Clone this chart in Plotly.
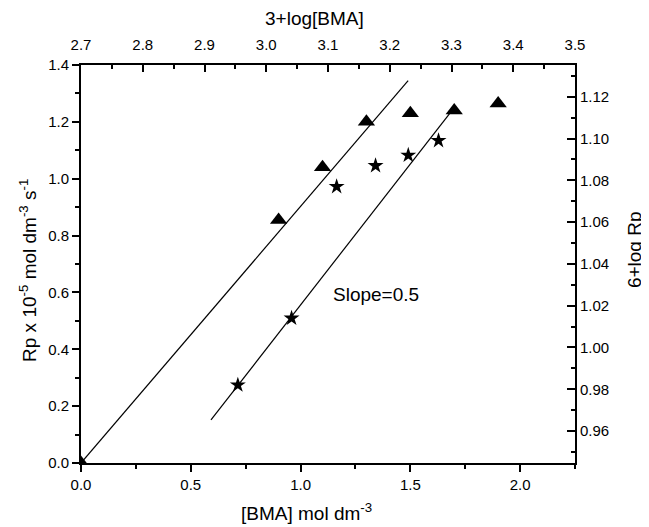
import plotly.graph_objects as go

# Rp vs [BMA] (bottom / left axes)
bma = [0.0, 0.9, 1.1, 1.3, 1.5, 1.7, 1.9]
rp = [0.0, 0.855, 1.04, 1.2, 1.23, 1.24, 1.265]
fit1_x = [0.0, 1.49]
fit1_y = [0.0, 1.345]

# 6+log Rp vs 3+log[BMA] (top / right axes)
log_bma = [2.954, 3.041, 3.114, 3.177, 3.230, 3.279]
log_rp = [0.982, 1.014, 1.077, 1.087, 1.092, 1.099]
fit2_x = [2.9105, 3.301]
fit2_y = [0.9653, 1.1135]

x_ticks = [0.0, 0.5, 1.0, 1.5, 2.0]
y_ticks = [0.0, 0.2, 0.4, 0.6, 0.8, 1.0, 1.2, 1.4]
x2_ticks = [2.7, 2.8, 2.9, 3.0, 3.1, 3.2, 3.3, 3.4, 3.5]
y2_ticks = [0.96, 0.98, 1.00, 1.02, 1.04, 1.06, 1.08, 1.10, 1.12]

FONT = "Arial, Liberation Sans, sans-serif"
TICKF = dict(family=FONT, size=15, color="black")
TITLEF = dict(family=FONT, size=19, color="black")

fig = go.Figure()
fig.add_trace(go.Scatter(x=fit1_x, y=fit1_y, mode="lines",
                         line=dict(color="black", width=1.2), showlegend=False))
fig.add_trace(go.Scatter(x=bma, y=rp, mode="markers",
                         marker=dict(symbol="triangle-up", size=15, color="black"),
                         showlegend=False))
fig.add_trace(go.Scatter(x=fit2_x, y=fit2_y, mode="lines", xaxis="x2", yaxis="y2",
                         line=dict(color="black", width=1.2), showlegend=False))
fig.add_trace(go.Scatter(x=log_bma, y=log_rp, mode="markers", xaxis="x2", yaxis="y2",
                         marker=dict(symbol="star", size=12, color="black"),
                         showlegend=False))

axis_common = dict(showgrid=False, zeroline=False, showline=True, linecolor="black",
                   linewidth=2, tickcolor="black", tickwidth=1.5, tickfont=TICKF)

# the page adds an 8px body margin, so the figure is shrunk by that amount
fig.update_layout(
    width=641, height=519,
    margin=dict(l=73, r=74, t=57, b=64),
    paper_bgcolor="white", plot_bgcolor="white",
    showlegend=False,
    xaxis=dict(range=[0, 2.25], tickvals=x_ticks, ticktext=[f"{v:.1f}" for v in x_ticks],
               ticks="outside", ticklen=7,
               minor=dict(dtick=0.25, tick0=0, ticks="outside", ticklen=4,
                          tickcolor="black", tickwidth=1.5),
               **axis_common),
    yaxis=dict(range=[0, 1.4], tickvals=y_ticks, ticktext=[f"{v:.1f}" for v in y_ticks],
               ticks="outside", ticklen=7,
               minor=dict(dtick=0.1, tick0=0, ticks="outside", ticklen=4,
                          tickcolor="black", tickwidth=1.5),
               **axis_common),
    xaxis2=dict(range=[2.7, 3.5], overlaying="x", side="top", anchor="y",
                tickvals=x2_ticks, ticktext=[f"{v:.1f}" for v in x2_ticks],
                ticks="inside", ticklen=7, ticklabelstandoff=7,
                minor=dict(dtick=0.05, tick0=2.7, ticks="inside", ticklen=4,
                           tickcolor="black", tickwidth=1.5),
                **axis_common),
    yaxis2=dict(range=[0.9447, 1.1352], overlaying="y", side="right", anchor="x",
                tickvals=y2_ticks, ticktext=[f"{v:.2f}" for v in y2_ticks],
                ticks="inside", ticklen=8,
                minor=dict(dtick=0.01, tick0=0.95, ticks="inside", ticklen=4,
                           tickcolor="black", tickwidth=1.5),
                **axis_common),
)

ann = dict(showarrow=False, font=TITLEF, xanchor="center", yanchor="middle")
fig.add_annotation(x=1.343, y=0.591, xref="x", yref="y", text="Slope=0.5", **ann)
fig.add_annotation(x=0.4555, y=-0.123, xref="paper", yref="paper",
                   text="[BMA] mol dm<sup>-3</sup>", **ann)
fig.add_annotation(x=0.4717, y=1.1156, xref="paper", yref="paper",
                   text="3+log[BMA]", **ann)
fig.add_annotation(x=-0.1073, y=0.485, xref="paper", yref="paper", textangle=-90,
                   text="Rp x 10<sup>-5</sup> mol dm<sup>-3</sup> s<sup>-1</sup>", **ann)
fig.add_annotation(x=1.1195, y=0.535, xref="paper", yref="paper", textangle=-90,
                   text="6+log Rp", **ann)

fig.write_html("out.html")
